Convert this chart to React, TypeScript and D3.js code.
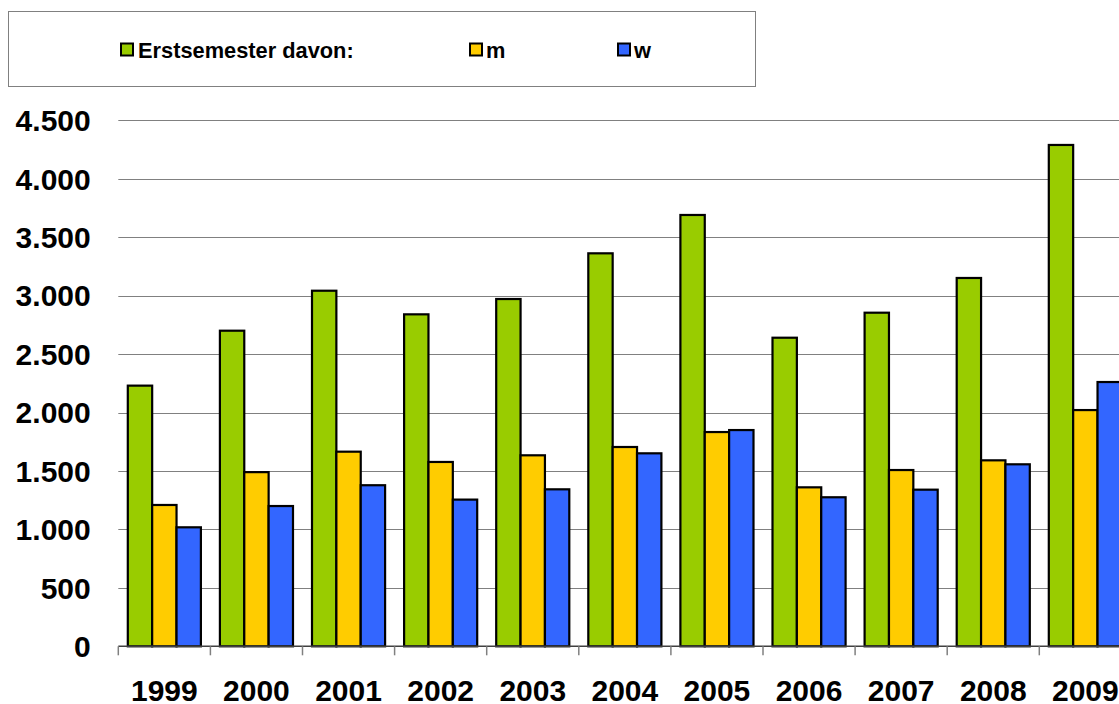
import React, { useEffect } from "react";
import * as d3 from "d3";

const years = ["1999", "2000", "2001", "2002", "2003", "2004", "2005", "2006", "2007", "2008", "2009"];
const seriesNames = ["Erstsemester davon:", "m", "w"];
const seriesColors = ["#99CC00", "#FFCC00", "#3366FF"];
const erstsemester = [2230, 2700, 3042, 2840, 2971, 3362, 3690, 2640, 2854, 3151, 4289];
const maennlich = [1209, 1490, 1665, 1577, 1634, 1705, 1833, 1360, 1508, 1591, 2021];
const weiblich = [1018, 1200, 1378, 1255, 1343, 1651, 1850, 1275, 1340, 1557, 2261];
const yTicks = [0, 500, 1000, 1500, 2000, 2500, 3000, 3500, 4000, 4500];

const W = 1119;
const H = 704;
const FONT = "'Liberation Sans', Arial, Helvetica, sans-serif";

const fmt = (v: number) => {
  const s = String(v);
  return s.replace(/\B(?=(\d{3})+(?!\d))/g, ".");
};

export default function App() {
  useEffect(() => {
    document.body.style.margin = "0";
  }, []);

  const seriesValues = [erstsemester, maennlich, weiblich];
  const plotLeft = 118.3;
  const catW = 92.1;
  const x0 = d3.scaleBand<string>().domain(years).range([plotLeft, plotLeft + catW * years.length]).padding(0);
  const x1 = d3.scaleBand<string>().domain(seriesNames).range([0, x0.bandwidth()]).paddingInner(0).paddingOuter(0.39);
  const y = d3.scaleLinear().domain([0, 4500]).range([646.3, 120.3]);
  const baseY = y(0);

  const legendItems = [
    { sx: 121, tx: 138 },
    { sx: 470, tx: 486 },
    { sx: 618, tx: 634 },
  ];

  return (
    <svg width={W} height={H} style={{ display: "block", position: "fixed", left: 0, top: 0 }} fontFamily={FONT}>
      <rect x={0} y={0} width={W} height={H} fill="#fff" />
      {/* legend */}
      <rect x={8.5} y={11.5} width={747} height={75} fill="#fff" stroke="#808080" strokeWidth={1} />
      {seriesNames.map((n, i) => (
        <g key={n}>
          <rect x={legendItems[i].sx} y={43.5} width={12} height={12} fill={seriesColors[i]} stroke="#000" strokeWidth={2} />
          <text x={legendItems[i].tx} y={57.5} fontSize={21.8} fontWeight="bold" fill="#000">{n}</text>
        </g>
      ))}
      {/* gridlines */}
      {yTicks.filter((t) => t > 0).map((t) => (
        <line key={t} x1={plotLeft} x2={W} y1={Math.round(y(t)) + 0.5} y2={Math.round(y(t)) + 0.5} stroke="#808080" strokeWidth={1} />
      ))}
      {/* y labels */}
      {yTicks.map((t) => (
        <text key={t} x={90.7} y={y(t)} dy="0.36em" textAnchor="end" fontSize={30} fontWeight="bold" fill="#000">{fmt(t)}</text>
      ))}
      {/* bars */}
      {years.map((yr, i) => (
        <g key={yr} transform={`translate(${x0(yr)},0)`}>
          {seriesNames.map((s, j) => {
            const v = seriesValues[j][i];
            return (
              <rect key={s} x={x1(s)!} y={y(v)} width={x1.bandwidth()} height={baseY - y(v)} fill={seriesColors[j]} stroke="#000" strokeWidth={2.2} />
            );
          })}
        </g>
      ))}
      {/* x axis */}
      <line x1={plotLeft} x2={W} y1={baseY} y2={baseY} stroke="#404040" strokeWidth={1.5} />
      {years.map((yr) => (
        <line key={"t" + yr} x1={x0(yr)!} x2={x0(yr)!} y1={baseY} y2={baseY + 9} stroke="#808080" strokeWidth={1.5} />
      ))}
      {years.map((yr) => (
        <text key={"l" + yr} x={x0(yr)! + x0.bandwidth() / 2} y={700.5} textAnchor="middle" fontSize={30} fontWeight="bold" fill="#000">{yr}</text>
      ))}
    </svg>
  );
}
